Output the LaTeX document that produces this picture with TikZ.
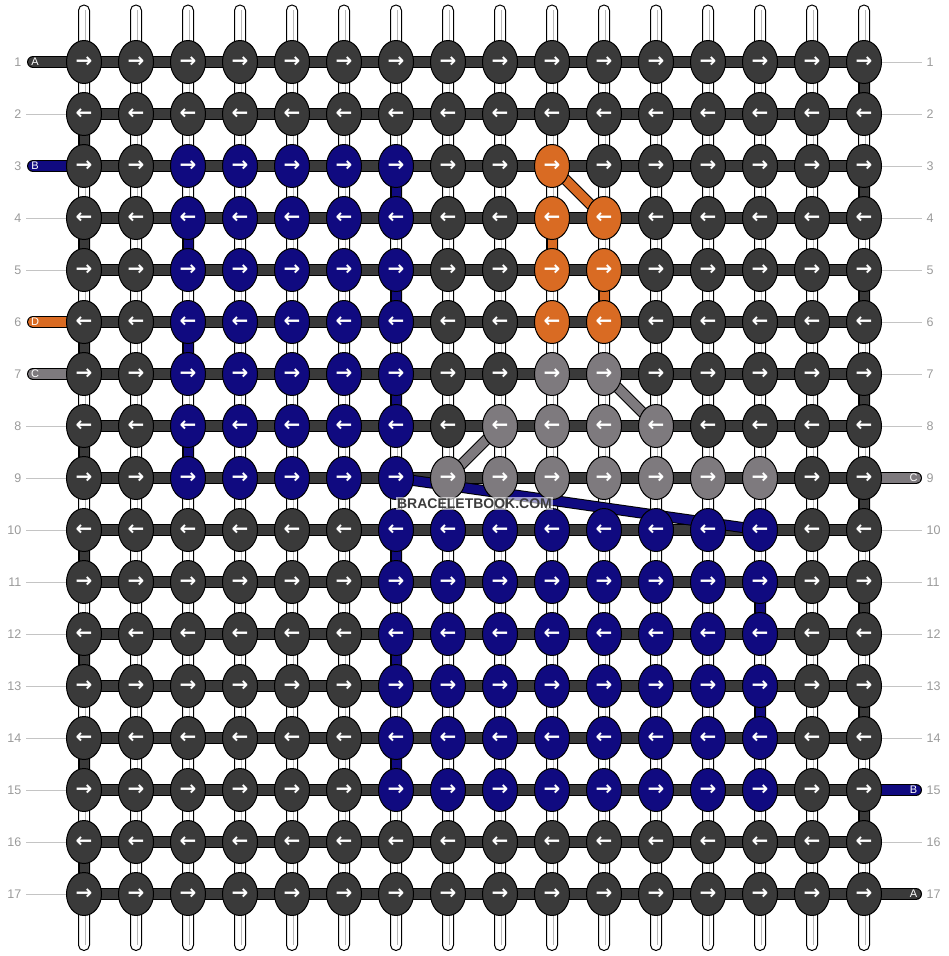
\documentclass[tikz,border=0pt]{standalone}
\usepackage{fontspec}
\setmainfont{Liberation Sans}
\newfontfamily\bbArrowFont{DejaVu Sans}
\usetikzlibrary{shapes.geometric}
\pgfdeclarelayer{strings}
\pgfdeclarelayer{bars}
\pgfsetlayers{strings,bars,main}

\definecolor{cA}{HTML}{3A3A3A}
\definecolor{cB}{HTML}{100A80}
\definecolor{cC}{HTML}{7E7A7E}
\definecolor{cD}{HTML}{D96B23}
\definecolor{lab}{HTML}{9A9A9A}
\definecolor{guide}{HTML}{C4C4C4}
\definecolor{midline}{HTML}{B8B8B8}
\definecolor{wmtext}{HTML}{3C3C3C}

\def\bbKnotCol#1#2{%
  \def\bbKc{cA}%
  \ifnum#1>2 \ifnum#1<10 \ifnum#2>2 \ifnum#2<8 \def\bbKc{cB}\fi\fi\fi\fi
  \ifnum#1>9 \ifnum#1<16 \ifnum#2>6 \ifnum#2<15 \def\bbKc{cB}\fi\fi\fi\fi
  \ifnum#1=3 \ifnum#2=10 \def\bbKc{cD}\fi\fi
  \ifnum#1>3 \ifnum#1<7 \ifnum#2>9 \ifnum#2<12 \def\bbKc{cD}\fi\fi\fi\fi
  \ifnum#1=7 \ifnum#2>9 \ifnum#2<12 \def\bbKc{cC}\fi\fi\fi
  \ifnum#1=8 \ifnum#2>8 \ifnum#2<13 \def\bbKc{cC}\fi\fi\fi
  \ifnum#1=9 \ifnum#2>7 \ifnum#2<15 \def\bbKc{cC}\fi\fi\fi
}

\tikzset{
  knot/.style={ellipse, draw=black, line width=1pt, fill=#1,
    minimum width=35pt, minimum height=43pt, inner sep=0pt, text=white,
    font=\bbArrowFont\bfseries\fontsize{20}{20}\selectfont},
  bar/.style={draw=black, line width=1pt, double=#1, double distance=10pt},
  vbar/.style={draw=black, line width=1pt, double=#1, double distance=9pt},
  stub/.style={bar=#1, line cap=round},
  stringbox/.style={draw=black, fill=white, line width=1pt, rounded corners=5.4pt},
  stringmid/.style={draw=midline, line width=1pt},
  guideline/.style={draw=guide, line width=1pt},
  lablft/.style={anchor=east, inner sep=0pt, text=lab, font=\fontsize{12.5}{12.5}\selectfont},
  labrgt/.style={anchor=west, inner sep=0pt, text=lab, font=\fontsize{12.5}{12.5}\selectfont},
  stubtext/.style={inner sep=0pt, text=white, font=\fontsize{11}{11}\selectfont},
  watermark/.style={fill=white, fill opacity=0.6, text opacity=1, text=wmtext,
    inner xsep=1pt, inner ysep=1.5pt, font=\bfseries\fontsize{14}{14}\selectfont}
}

\begin{document}
\begin{tikzpicture}[x=1pt,y=-1pt]
\useasboundingbox (0,0) rectangle (948,956);

% knots
\foreach \r in {1,...,17}{
  \foreach \c in {1,...,16}{
    \pgfmathtruncatemacro\kx{84+52*(\c-1)}
    \pgfmathtruncatemacro\ky{62+52*(\r-1)}
    \bbKnotCol{\r}{\c}
    \ifodd\r \def\bbArr{→}\else \def\bbArr{←}\fi
    \node[knot=\bbKc] (k\r-\c) at (\kx,\ky) {\bbArr};
  }
}

% vertical white strings
\begin{pgfonlayer}{strings}
\foreach \c in {1,...,16}{
  \pgfmathtruncatemacro\kx{84+52*(\c-1)}
  \draw[stringbox] (\kx-5.5,5) rectangle (\kx+5.5,950.5);
  \draw[stringmid] (\kx+1,10) -- (\kx+1,945);
}
\end{pgfonlayer}

% horizontal bars and thread connections
\begin{pgfonlayer}{bars}
\foreach \r in {1,...,17}{
  \foreach \c [evaluate=\c as \cn using int(\c+1)] in {1,...,15}{
    \draw[bar=cA] (k\r-\c.center) -- (k\r-\cn.center);
  }
}
\foreach \r [evaluate=\r as \rn using int(\r+1)] in {1,3,...,15}{
  \draw[vbar=cA] (k\r-16.center) -- (k\rn-16.center);
}
\foreach \r [evaluate=\r as \rn using int(\r+1)] in {2,4,...,16}{
  \draw[vbar=cA] (k\r-1.center) -- (k\rn-1.center);
}
\foreach \ra/\ca/\rb/\cb/\col in {3/7/4/7/cB, 4/3/5/3/cB, 5/7/6/7/cB, 6/3/7/3/cB,
    7/7/8/7/cB, 8/3/9/3/cB, 9/7/10/14/cB, 10/7/11/7/cB, 11/14/12/14/cB,
    12/7/13/7/cB, 13/14/14/14/cB, 14/7/15/7/cB,
    3/10/4/11/cD, 4/10/5/10/cD, 5/11/6/11/cD,
    7/11/8/12/cC, 8/9/9/8/cC}{
  \draw[vbar=\col] (k\ra-\ca.center) -- (k\rb-\cb.center);
}
% left stubs
\foreach \r/\col in {1/cA, 3/cB, 6/cD, 7/cC}{
  \pgfmathtruncatemacro\ky{62+52*(\r-1)}
  \coordinate (sl\r) at (33,\ky);
  \draw[stub=\col] (sl\r) -- (k\r-1.center);
}
% right stubs
\foreach \r/\col in {9/cC, 15/cB, 17/cA}{
  \pgfmathtruncatemacro\ky{62+52*(\r-1)}
  \coordinate (sr\r) at (916,\ky);
  \draw[stub=\col] (k\r-16.center) -- (sr\r);
}
\end{pgfonlayer}

% stub letters
\foreach \r/\t in {1/A, 3/B, 6/D, 7/C}{
  \pgfmathtruncatemacro\ky{62+52*(\r-1)}
  \node[stubtext] (tl\r) at (35,\ky) {\t};
}
\foreach \r/\t in {9/C, 15/B, 17/A}{
  \pgfmathtruncatemacro\ky{62+52*(\r-1)}
  \node[stubtext] (tr\r) at (913.5,\ky) {\t};
}

% guide lines
\foreach \r in {2,4,5,8,9,10,11,12,13,14,15,16,17}{
  \pgfmathtruncatemacro\ky{62+52*(\r-1)}
  \coordinate (gl\r) at (26,\ky);
  \draw[guideline] (gl\r) -- (k\r-1.west);
}
\foreach \r in {1,2,3,4,5,6,7,8,10,11,12,13,14,16}{
  \pgfmathtruncatemacro\ky{62+52*(\r-1)}
  \coordinate (gr\r) at (922,\ky);
  \draw[guideline] (k\r-16.east) -- (gr\r);
}

% row numbers
\foreach \r in {1,...,17}{
  \pgfmathtruncatemacro\ky{62+52*(\r-1)}
  \node[lablft] (nl\r) at (21.5,\ky) {\r};
  \node[labrgt] (nr\r) at (926.5,\ky) {\r};
}

% watermark
\node[watermark] (wm) at (474.5,503.5) {BRACELETBOOK.COM};
\end{tikzpicture}
\end{document}
